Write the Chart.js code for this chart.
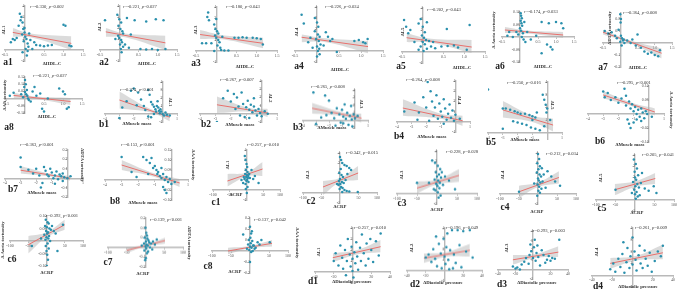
<!DOCTYPE html>
<html><head><meta charset="utf-8">
<script src="https://cdn.jsdelivr.net/npm/chart.js@4"></script>
<style>
html,body{margin:0;padding:0;background:#fff;}
#fig{position:relative;width:685px;height:302px;overflow:hidden;font-family:"Liberation Serif","DejaVu Serif",serif;}
#fig canvas{position:absolute;}
.t{position:absolute;white-space:nowrap;color:#222;line-height:1;}
.lab{font-size:9.5px;font-weight:bold;}
.ann{font-size:4.6px;color:#333;}
.xt{font-size:4.8px;font-weight:bold;color:#333;}
.yt{font-size:4.8px;font-weight:bold;color:#333;}
</style></head><body><div id="fig"></div>
<script>
/* tick labels */
const hdlTicks = ['-0.5','0.5','1.0','1.5'];
const muscleTicks = ['-4','-3','-2','-1','1'];
const crpTicks = ['-100','-50','50','100'];
const dbpTicks = ['-40','-20','20','40'];
const lTicks = ['-1','1','2','3','4'];
const aortaTicks = ['-0.10','-0.05','0.05','0.10'];
const tort1Ticks = ['-0.2','-0.1','0.1','0.2','0.3'];
const tort2Ticks = ['-0.10','-0.05','0.05','0.10','0.15'];

/* annotations */
const rText = ['-0.330','-0.221','-0.180','-0.226','-0.202','-0.174','-0.364','-0.221',
  '-0.374','-0.267','-0.265','-0.264','-0.250','-0.295','-0.363','-0.153',
  '0.257','0.342','0.228','0.212','0.205','0.392','0.139','0.137',
  '0.257','0.196','0.293','0.261'];
const pText = ['=0.002','=0.027','=0.043','=0.024','=0.043','=0.033','=0.008','=0.027',
  '<0.001','=0.007','=0.008','=0.008','=0.016','<0.001','<0.001','<0.001',
  '=0.010','=0.015','=0.028','=0.034','=0.041','<0.001','<0.001','=0.042',
  '=0.010','=0.049','=0.003','=0.009'];

/* HDL-C panels */
const a1Pts = [[-0.12,3.3],[-0.08,3.0],[-0.1,2.7],[-0.05,2.5],[-0.15,2.2],[-0.03,1.9],[0.0,1.6],[-0.06,1.4],[0.02,1.2],[0.05,1.0],[-0.02,0.8],[0.08,0.6],[0.1,0.3],[0.03,0.1],[-0.05,-0.2],[0.06,-0.5],[0.12,1.5],[0.15,0.9],[-0.25,0.9],[-0.3,1.0],[-0.35,0.7],[0.3,0.45],[0.4,0.4],[0.5,0.35],[0.6,0.4],[0.7,0.45],[1.0,2.3],[1.05,2.2],[1.2,0.35],[1.15,0.4],[0.2,0.1],[0.08,-0.1],[0.0,2.0],[-0.2,1.1],[0.25,0.7]];
const a1Fit = [[-0.3,1.6],[1.2,0.6]];
const a1Band = [[-0.3,1.2,2.0],[0.15,1.15,1.5],[1.2,0.0,1.25]];
const a2Pts = [[-0.37,2.7],[-0.05,3.2],[0.0,2.8],[0.05,2.5],[-0.02,2.2],[0.03,1.9],[0.08,1.7],[0.1,1.5],[-0.03,1.3],[0.0,1.1],[0.05,0.9],[0.07,0.7],[0.02,0.5],[0.1,0.3],[0.04,0.1],[0.06,-0.2],[0.4,2.7],[0.7,2.6],[0.95,2.8],[1.15,2.7],[0.2,2.9],[0.55,0.1],[0.7,0.05],[0.85,0.1],[1.0,0.0],[1.2,0.1],[0.3,1.4],[-0.1,1.0],[0.15,0.5],[0.25,0.2]];
const a2Fit = [[-0.35,1.65],[1.2,0.65]];
const a2Band = [[-0.35,1.2,2.0],[0.15,1.15,1.5],[1.2,0.0,1.3]];
const a3Pts = [[-0.2,3.5],[-0.22,3.1],[-0.18,2.8],[-0.05,2.4],[-0.02,2.0],[0.02,1.8],[0.05,1.6],[-0.03,1.4],[0.0,1.2],[0.05,1.0],[0.08,0.8],[0.03,0.5],[0.1,0.3],[0.12,0.1],[-0.05,0.0],[0.2,0.05],[0.3,0.05],[-0.35,0.7],[-0.25,0.7],[-0.12,0.7],[0.55,1.2],[0.65,1.25],[0.75,1.2],[0.9,1.2],[1.0,1.15],[1.1,1.1],[1.15,0.6],[0.45,1.2],[0.15,1.3],[0.0,2.9]];
const a3Fit = [[-0.4,1.5],[1.16,0.7]];
const a3Band = [[-0.4,1.1,1.9],[0.2,1.05,1.4],[1.16,0.25,1.2]];
const a4Pts = [[-0.35,3.3],[-0.3,2.5],[-0.05,3.0],[0.0,2.6],[0.03,2.2],[-0.05,1.8],[0.02,1.5],[0.06,1.3],[-0.02,1.1],[0.04,0.9],[0.08,0.6],[0.0,0.4],[0.05,0.2],[0.02,0.0],[0.06,-0.3],[0.0,-0.5],[-0.15,1.2],[-0.2,0.8],[0.25,1.3],[0.3,0.9],[0.35,1.1],[0.45,-0.1],[0.85,0.9],[0.95,1.0],[1.05,0.8],[1.15,1.1],[1.1,0.7],[0.15,0.5],[0.2,1.7],[-0.1,0.3]];
const a4Fit = [[-0.35,1.25],[1.16,0.4]];
const a4Band = [[-0.35,0.8,1.5],[0.2,0.8,1.15],[1.16,-0.2,0.9]];
const a5Pts = [[-0.45,2.9],[-0.4,2.3],[-0.3,2.0],[-0.35,1.7],[-0.1,2.6],[-0.05,3.0],[0.0,2.3],[0.05,1.8],[-0.02,1.5],[0.03,1.3],[0.08,1.1],[0.0,0.9],[0.05,0.7],[-0.05,0.5],[0.1,0.3],[0.02,0.1],[-0.1,0.2],[0.1,2.7],[0.58,2.1],[1.13,2.45],[0.2,0.5],[0.3,0.35],[0.45,0.5],[0.6,0.55],[0.75,0.6],[0.85,0.4],[1.06,0.2],[0.15,1.0],[-0.2,0.9],[0.25,0.9]];
const a5Fit = [[-0.39,1.3],[1.18,0.45]];
const a5Band = [[-0.39,0.9,1.7],[0.2,0.85,1.2],[1.18,-0.1,1.1]];
const a6Pts = [[0.02,0.095],[0.03,0.085],[0.05,0.075],[0.02,0.065],[0.04,0.055],[0.06,0.045],[0.0,0.035],[0.03,0.025],[0.08,0.015],[0.05,0.0],[-0.05,0.01],[0.1,-0.01],[-0.1,0.02],[-0.3,0.02],[-0.35,0.005],[-0.2,0.0],[0.12,0.06],[0.6,0.06],[0.8,0.055],[1.0,0.06],[1.15,0.055],[1.2,0.035],[0.75,-0.03],[0.85,-0.04],[0.9,-0.05],[0.6,-0.065],[0.3,-0.01],[0.2,0.02],[0.15,-0.02],[0.45,0.005]];
const a6Fit = [[-0.42,0.028],[1.2,0.008]];
const a6Band = [[-0.42,0.016,0.04],[0.2,0.014,0.026],[1.2,-0.004,0.02]];
const a7Pts = [[0.0,0.24],[0.02,0.2],[0.01,0.17],[-0.45,0.1],[-0.35,0.08],[-0.25,0.09],[-0.15,0.06],[-0.1,0.04],[0.02,0.06],[0.05,0.04],[0.08,0.02],[0.0,0.01],[0.1,0.03],[0.12,0.0],[0.04,-0.02],[0.2,0.02],[0.3,0.0],[0.5,0.07],[0.45,-0.02],[0.6,-0.04],[0.7,-0.07],[0.8,-0.09],[0.9,-0.08],[1.0,-0.1],[1.1,-0.11],[1.15,-0.06],[0.35,0.03],[-0.05,0.11]];
const a7Fit = [[-0.5,0.09],[1.2,-0.085]];
const a7Band = [[-0.5,0.07,0.11],[0.3,-0.002,0.02],[1.2,-0.13,-0.045]];
const a8Pts = [[0.0,0.13],[0.02,0.1],[-0.02,0.08],[0.05,0.06],[0.0,0.045],[0.03,0.03],[0.06,0.02],[-0.05,0.01],[0.08,0.0],[0.1,-0.01],[-0.1,0.03],[-0.3,0.04],[-0.4,0.02],[0.2,0.05],[0.3,0.02],[0.45,-0.07],[0.5,-0.09],[0.9,0.07],[1.0,0.05],[1.05,0.03],[1.1,-0.07],[1.15,-0.06],[0.6,0.0],[0.15,-0.02],[0.25,0.08],[0.4,0.035]];
const a8Fit = [[-0.3,0.022],[1.2,-0.02]];
const a8Band = [[-0.3,0.005,0.04],[0.2,0.0,0.017],[1.2,-0.045,0.005]];

/* muscle mass panels */
const b1Pts = [[-3.0,-0.5],[-2.8,0.8],[-2.2,2.9],[-2.0,3.2],[-1.7,2.7],[-1.5,1.8],[-1.3,1.0],[-1.2,0.5],[-1.0,3.0],[-0.9,2.4],[-0.8,1.5],[-0.7,1.2],[-0.6,0.9],[-0.5,0.6],[-0.45,0.3],[-0.4,1.0],[-0.3,0.8],[-0.25,0.4],[-0.2,0.1],[-0.15,0.6],[-0.1,0.3],[0.0,0.0],[0.1,-0.2],[0.2,0.2],[0.3,-0.1],[0.5,-0.2],[-0.6,0.0],[-1.0,-0.3],[-1.8,1.1],[-2.5,1.6],[-0.35,1.6],[-0.8,-0.4]];
const b1Fit = [[-3,1.75],[0.5,-0.4]];
const b1Band = [[-3,0.7,2.8],[-0.8,0.2,0.6],[0.5,-0.9,0.1]];
const b2Pts = [[-2.9,-1.0],[-2.5,1.9],[-2.2,2.8],[-2.0,1.5],[-1.8,2.4],[-1.6,2.0],[-1.5,0.9],[-1.3,2.6],[-1.2,1.2],[-1.0,0.8],[-0.9,1.6],[-0.8,0.5],[-0.7,1.1],[-0.6,0.2],[-0.5,0.9],[-0.4,0.4],[-0.3,-0.2],[-0.2,0.6],[-0.1,0.1],[0.0,-0.3],[0.2,0.3],[0.4,0.0],[-1.1,-0.4],[-1.4,-0.2],[-0.8,-0.5],[-0.5,1.9],[-1.7,0.6]];
const b2Fit = [[-2.9,1.1],[0.4,0.1]];
const b2Band = [[-2.9,0.1,2.1],[-0.8,0.25,0.7],[0.4,-0.4,0.6]];
const b3Pts = [[-3.2,3.7],[-2.3,3.3],[-2.0,2.6],[-3.0,-0.5],[-2.6,0.4],[-1.8,1.0],[-1.6,0.3],[-1.4,1.6],[-1.2,0.8],[-1.1,-0.3],[-1.0,1.4],[-0.9,0.5],[-0.8,2.1],[-0.7,0.2],[-0.6,1.0],[-0.5,-0.6],[-0.4,0.6],[-0.3,1.9],[-0.25,0.1],[-0.2,-0.8],[-0.1,0.8],[0.0,0.3],[0.2,0.6],[-1.5,-0.7],[-0.9,-0.4],[-2.2,0.7]];
const b3Fit = [[-3.3,1.6],[0.5,0.3]];
const b3Band = [[-3.3,0.9,2.3],[-0.8,0.5,1.0],[0.5,-0.3,0.9]];
const b4Pts = [[-3.5,1.0],[-2.8,1.9],[-2.5,0.9],[-2.2,2.4],[-2.0,1.4],[-1.9,3.9],[-1.7,3.0],[-1.6,2.0],[-1.5,0.6],[-1.4,1.4],[-1.3,2.6],[-1.2,0.3],[-1.1,1.8],[-1.0,1.0],[-0.9,0.5],[-0.8,2.2],[-0.7,1.3],[-0.6,0.2],[-0.5,0.8],[-0.4,1.7],[-0.3,0.4],[-0.2,1.1],[-0.1,0.1],[0.0,0.7],[0.3,0.3],[-2.6,0.2],[-1.8,0.1],[-0.8,-0.2]];
const b4Fit = [[-3.6,1.35],[0.5,0.1]];
const b4Band = [[-3.6,0.6,2.2],[-1,0.3,0.8],[0.5,-0.4,0.6]];
const b5Pts = [[-4.0,3.4],[-3.0,1.9],[-2.8,1.9],[-2.5,1.8],[-2.2,1.7],[-2.0,1.6],[-1.8,1.5],[-1.5,1.5],[-1.2,1.4],[-1.0,1.3],[-0.8,1.2],[-0.7,1.6],[-2.3,0.9],[-2.0,0.8],[-1.7,0.7],[-1.4,0.6],[-1.1,0.4],[-0.8,0.3],[-0.5,0.2],[-0.3,3.0],[-0.2,2.6],[-0.1,2.2],[0.0,1.9],[-0.05,1.6],[-0.2,0.5],[0.2,1.0],[-3.0,0.3],[-1.0,1.0]];
const b5Fit = [[-3,1.8],[0.4,0.6]];
const b5Band = [[-3,1.2,2.5],[-1,0.85,1.35],[0.4,0.1,1.1]];
const b6Pts = [[-3.0,0.08],[-2.9,0.06],[-2.7,0.075],[-2.5,0.05],[-2.2,0.06],[-2.0,0.04],[-1.8,0.055],[-1.6,0.09],[-1.5,0.03],[-1.3,0.045],[-1.2,0.02],[-1.1,0.035],[-1.0,0.01],[-0.9,0.025],[-0.8,0.0],[-0.7,0.015],[-0.6,-0.01],[-0.5,0.02],[-0.4,0.005],[-0.3,-0.015],[-0.2,0.01],[-0.1,0.0],[0.2,-0.01],[-1.4,-0.02],[-1.3,-0.035],[-1.2,-0.05],[-1.0,-0.03],[-0.8,-0.02],[-0.5,-0.025],[-1.5,0.065]];
const b6Fit = [[-3,0.068],[0.4,0.007]];
const b6Band = [[-3,0.055,0.082],[-1,0.026,0.038],[0.4,-0.005,0.02]];
const b7Pts = [[-3.0,0.22],[-3.0,0.12],[-2.5,0.09],[-2.2,0.05],[-2.0,0.1],[-1.8,0.03],[-1.6,-0.05],[-1.5,0.12],[-1.4,0.08],[-1.3,0.04],[-1.2,0.02],[-1.1,0.1],[-1.0,0.06],[-0.9,0.0],[-0.8,0.03],[-0.7,0.07],[-0.6,-0.01],[-0.5,0.04],[-0.4,0.02],[-0.3,-0.03],[-0.2,0.01],[0.0,0.0],[0.2,0.02],[-1.7,-0.1],[-0.8,-0.06],[-0.3,0.05]];
const b7Fit = [[-3,0.085],[0.17,0.0]];
const b7Band = [[-3,0.05,0.13],[-1,0.015,0.045],[0.17,-0.025,0.025]];
const b8Pts = [[-3.0,0.115],[-1.7,0.115],[-1.5,0.1],[-1.3,0.085],[-1.2,0.11],[-1.0,0.07],[-0.9,0.05],[-0.85,0.03],[-0.8,0.04],[-0.7,0.02],[-0.6,0.01],[-0.5,0.03],[-0.4,0.0],[-0.3,0.015],[-0.2,-0.01],[-0.1,0.005],[0.0,-0.02],[0.2,-0.01],[-2.1,0.015],[-2.4,0.04],[-1.1,0.06],[-0.5,-0.035],[-0.4,-0.05],[-0.3,-0.065],[-1.4,0.03],[-0.6,0.06]];
const b8Fit = [[-3,0.075],[0.5,-0.015]];
const b8Band = [[-3,0.05,0.1],[-1,0.015,0.032],[0.5,-0.035,0.005]];

/* CRP panels */
const c1Pts = [[-5,3.4],[-3,3.0],[0,2.6],[2,2.3],[-2,2.0],[3,1.8],[-4,1.6],[1,1.5],[5,1.4],[-1,1.3],[4,1.2],[-6,1.1],[2,1.0],[0,0.9],[6,0.8],[-3,0.6],[8,1.6],[10,1.2],[-8,1.3],[-10,0.7],[15,2.0],[20,1.1],[36,0.7],[3,0.3],[-2,0.1],[1,-0.3],[-15,1.0],[25,1.4]];
const c1Fit = [[-57,0.9],[48,2.1]];
const c1Band = [[-57,0.35,1.6],[0,1.35,1.75],[48,1.4,2.8]];
const c2Pts = [[0,3.6],[3,3.3],[6,3.0],[12,2.8],[18,2.7],[25,2.5],[30,2.3],[2,2.4],[-2,2.0],[4,1.8],[8,1.6],[0,1.4],[-3,1.2],[5,1.1],[10,1.0],[1,0.9],[-4,0.8],[3,0.6],[7,0.5],[-1,0.4],[12,0.3],[18,0.2],[25,0.15],[48,0.1],[6,0.1],[-8,0.9],[15,1.3],[20,1.9]];
const c2Fit = [[-46,0.6],[49,2.0]];
const c2Band = [[-46,-0.2,1.2],[0,1.05,1.5],[49,1.3,2.7]];
const c3Pts = [[-12,3.1],[-5,2.9],[2,2.6],[8,2.3],[-3,2.0],[5,1.8],[0,1.6],[10,1.5],[-6,1.3],[3,1.2],[7,1.0],[-2,0.9],[1,0.7],[6,0.5],[-4,0.3],[2,0.1],[9,-0.2],[4,-0.4],[-50,1.0],[-20,1.0],[15,0.8],[20,1.6],[30,1.2],[45,0.4],[-8,0.4],[12,2.0]];
const c3Fit = [[-50,0.5],[55,1.7]];
const c3Band = [[-50,0.0,1.1],[0,0.85,1.3],[55,1.1,2.3]];
const c4Pts = [[0,3.9],[3,3.4],[-2,3.0],[5,2.7],[1,2.4],[-3,2.1],[4,1.9],[8,1.7],[0,1.5],[2,1.3],[6,1.1],[-1,0.9],[3,0.7],[9,0.5],[1,0.3],[5,0.1],[-2,-0.2],[12,1.2],[15,1.9],[20,0.6],[35,1.7],[45,1.2],[58,0.8],[-50,0.2],[-10,1.0],[25,2.2],[10,2.5]];
const c4Fit = [[-50,0.2],[55,1.6]];
const c4Band = [[-50,-0.4,0.8],[0,0.65,1.1],[55,1.0,2.2]];
const c5Pts = [[-3,3.6],[2,3.2],[5,2.8],[-1,2.5],[8,2.2],[0,2.0],[3,1.8],[-5,1.6],[6,1.4],[1,1.2],[10,1.1],[-2,0.9],[4,0.7],[0,0.5],[7,0.3],[2,0.1],[15,1.5],[18,2.4],[25,1.0],[35,0.8],[48,1.2],[55,0.6],[-8,0.6],[12,0.4],[-50,0.9]];
const c5Fit = [[-52,0.9],[52,1.9]];
const c5Band = [[-52,0.4,1.4],[0,1.15,1.65],[52,1.4,2.4]];
const c6Pts = [[-2,0.085],[3,0.075],[6,0.07],[-4,0.06],[1,0.055],[8,0.05],[12,0.045],[-1,0.04],[4,0.035],[2,0.03],[-6,0.025],[7,0.02],[0,0.015],[5,0.01],[-3,0.005],[10,0.0],[3,-0.01],[-2,-0.02],[6,-0.03],[0,-0.04],[2,-0.055],[4,-0.075],[1,-0.1],[15,0.06],[20,0.04],[25,0.03],[30,-0.04],[-40,-0.02],[-15,0.01],[45,0.065]];
const c6Fit = [[-50,-0.015],[50,0.065]];
const c6Band = [[-50,-0.05,0.02],[0,0.015,0.035],[50,0.045,0.085]];
const c7Pts = [[2,0.15],[4,0.12],[-2,0.1],[5,0.09],[8,0.07],[1,0.06],[10,0.05],[-4,0.04],[3,0.03],[6,0.02],[0,0.01],[12,0.0],[2,-0.01],[-3,-0.03],[7,-0.04],[15,0.04],[20,0.06],[25,0.03],[4,-0.06],[1,-0.11],[-1,-0.13],[30,0.08],[-10,0.02],[18,-0.02],[0,0.2]];
const c7Fit = [[-50,-0.03],[52,0.07]];
const c7Band = [[-50,-0.06,0.0],[0,0.01,0.03],[52,0.04,0.1]];
const c8Pts = [[0,0.22],[5,0.18],[-18,0.15],[3,0.16],[1,0.12],[-3,0.1],[6,0.09],[20,0.08],[52,0.08],[2,0.07],[-5,0.06],[8,0.05],[0,0.04],[4,0.03],[12,0.02],[-2,0.01],[7,0.0],[3,-0.01],[10,0.05],[15,0.03],[25,0.06],[0,-0.1],[-8,0.02],[30,0.1]];
const c8Fit = [[-58,0.0],[58,0.07]];
const c8Band = [[-58,-0.03,0.03],[0,0.025,0.045],[58,0.04,0.1]];

/* diastolic pressure panels */
const d1Pts = [[-20,1.0],[-18,1.7],[-15,0.6],[-13,2.4],[-11,1.3],[-10,0.3],[-8,2.0],[-6,1.0],[-5,3.0],[-3,1.6],[-2,0.5],[-1,2.3],[0,1.2],[0,0.1],[2,1.8],[3,0.8],[4,2.7],[5,1.4],[6,0.2],[8,2.2],[9,1.0],[10,3.4],[12,1.7],[14,0.6],[15,2.6],[17,1.2],[19,3.0],[20,2.0],[22,0.9],[25,2.8],[28,1.5],[30,3.5],[-7,-0.3],[1,-0.5]];
const d1Fit = [[-21,1.3],[30,2.3]];
const d1Band = [[-21,0.9,1.7],[5,1.6,2.0],[30,1.8,2.9]];
const d2Pts = [[-20,1.2],[-17,1.5],[-14,0.8],[-12,2.0],[-10,1.1],[-8,0.4],[-6,2.5],[-4,1.6],[-3,0.2],[-1,3.0],[0,1.3],[1,0.6],[2,2.2],[3,3.5],[4,1.0],[5,0.1],[6,1.9],[8,3.8],[10,1.5],[12,0.7],[14,3.8],[16,2.4],[18,0.3],[20,3.7],[23,1.8],[27,3.8],[30,1.2],[-9,3.2],[9,0.2]];
const d2Fit = [[-22,1.15],[27,1.9]];
const d2Band = [[-22,0.7,1.6],[3,1.3,1.75],[27,1.3,2.5]];
const d3Pts = [[-23,0.3],[-20,0.1],[-18,0.2],[-15,0.0],[-13,0.5],[-10,0.8],[-8,1.2],[-5,0.6],[-4,1.5],[-2,1.9],[0,1.2],[1,2.3],[2,3.1],[3,0.9],[4,1.7],[5,2.5],[6,1.3],[8,0.4],[10,2.0],[12,1.5],[14,0.7],[16,1.0],[18,1.4],[20,0.9],[22,1.2],[25,1.1],[30,3.1],[-3,2.6]];
const d3Fit = [[-23,1.0],[29,1.8]];
const d3Band = [[-23,0.5,1.5],[3,1.2,1.6],[29,1.3,2.4]];
const d4Pts = [[-22,0.5],[-19,1.0],[-17,0.3],[-14,1.4],[-12,0.7],[-10,1.8],[-8,0.2],[-6,1.1],[-5,2.3],[-3,0.6],[-2,1.6],[0,3.2],[0,0.9],[2,2.0],[3,1.3],[4,0.4],[6,1.7],[7,2.5],[8,1.0],[10,0.6],[12,2.1],[13,1.4],[15,0.8],[17,1.9],[19,0.3],[22,1.2],[25,2.0],[28,1.6],[30,2.5],[-9,2.8]];
const d4Fit = [[-22,1.0],[30,1.9]];
const d4Band = [[-22,0.55,1.45],[4,1.25,1.65],[30,1.35,2.6]];

const TEAL = '#2a90ad', RED = '#e8706c', BAND = 'rgba(175,175,175,0.45)', AXIS = '#b9b9b9';
const SERIF = '"Liberation Serif", serif';
const fig = document.getElementById('fig');

const HDL = [-0.5, 1.5], MUS = [-4, 1], CRP = [-100, 100], DBP = [-40, 40];
const XT = {HDL: ['ΔHDL-C', hdlTicks], MUS: ['ΔMuscle mass', muscleTicks], CRP: ['ΔCRP', crpTicks], DBP: ['ΔDiastolic pressure', dbpTicks]};

// id, pts, fit, band, xkind, xrange, yrange, yticks, ytitle, box[X0,X1,Ytop,Ybot], label, ann, xtitle, ytitle(x,y,rot)
const panels = [
  ['a1',a1Pts,a1Fit,a1Band,'HDL',HDL,[-1,4],lTicks,'ΔL1',[5,83,6,61],[8,63],[47,7],[52,64],[4,30,-90]],
  ['a2',a2Pts,a2Fit,a2Band,'HDL',HDL,[-1,4],lTicks,'ΔL2',[100,177,6,61],[104,63],[140,7],[147,64],[100,27,-90]],
  ['a3',a3Pts,a3Fit,a3Band,'HDL',HDL,[-1,4],lTicks,'ΔL3',[196,277,7,62],[196,64],[243,7],[245,67],[196,30,-90]],
  ['a4',a4Pts,a4Fit,a4Band,'HDL',HDL,[-1,4],lTicks,'ΔL4',[295,383,7,62],[299,67],[342,7],[340,70],[297,32,-90]],
  ['a5',a5Pts,a5Fit,a5Band,'HDL',HDL,[-1,4],lTicks,'ΔL5',[402,485,8,63],[401,67],[444,10],[462,68],[403,32,-90]],
  ['a6',a6Pts,a6Fit,a6Band,'HDL',HDL,[-0.1,0.1],aortaTicks,'Δ Aorta tortuosity',[502,574,12,62],[500,67],[541,12],[543,67],[494,30,-90]],
  ['a7',a7Pts,a7Fit,a7Band,'HDL',HDL,[-0.2,0.25],tort1Ticks,'ΔDTA tortuosity',[603,672,13,67],[603,68],[640,13],[638,68],[610,28,-90]],
  ['a8',a8Pts,a8Fit,a8Band,'HDL',HDL,[-0.1,0.15],tort2Ticks,'ΔAA tortuosity',[6,82,77,113],[9,128],[50,76],[47,117],[5,95,-90]],
  ['b1',b1Pts,b1Fit,b1Band,'MUS',MUS,[-1,4],lTicks,'ΔL1',[105,177,82,122],[104,125],[137,90],[137,124],[170,102,90]],
  ['b2',b2Pts,b2Fit,b2Band,'MUS',MUS,[-1,4],lTicks,'ΔL2',[200,277,81,122],[206,125],[237,80],[240,125],[270,98,90]],
  ['b3',b3Pts,b3Fit,b3Band,'MUS',MUS,[-1,4],lTicks,'ΔL3',[303,368,90,127.5],[298,128],[328,87],[332,128],[361,104,90]],
  ['b4',b4Pts,b4Fit,b4Band,'MUS',MUS,[-1,4],lTicks,'ΔL4',[397,470,81,132],[399,137],[423,80],[432,137],[459,100,90]],
  ['b5',b5Pts,b5Fit,b5Band,'MUS',MUS,[-0.5,4],lTicks,'ΔL5',[488,562,82,139],[491,143],[524,83],[525,140],[552,105,90]],
  ['b6',b6Pts,b6Fit,b6Band,'MUS',MUS,[-0.1,0.1],aortaTicks,'Δ Aorta tortuosity',[588,664,86,142],[600,142],[634,83],[630,145],[671,110,90]],
  ['b7',b7Pts,b7Fit,b7Band,'MUS',MUS,[-0.2,0.3],tort1Ticks,'ΔDTA tortuosity',[5,83,150,197],[13,190],[37,145],[42,193],[82,165,90]],
  ['b8',b8Pts,b8Fit,b8Band,'MUS',MUS,[-0.1,0.15],tort2Ticks,'ΔAA tortuosity',[105,188,150,200],[115,202],[138,145],[143,203],[193,165,90]],
  ['c1',c1Pts,c1Fit,c1Band,'CRP',CRP,[-1,4],lTicks,'ΔL1',[213,280,150,200],[216,203],[263,145],[236,195],[228,165,-90]],
  ['c2',c2Pts,c2Fit,c2Band,'CRP',CRP,[-1,4],lTicks,'ΔL2',[303,377,153,203],[311,202],[362,153],[340,207],[308,175,-90]],
  ['c3',c3Pts,c3Fit,c3Band,'CRP',CRP,[-1,4],lTicks,'ΔL3',[397,477,151,203.5],[402,204],[462,152],[437,210],[402,175,-90]],
  ['c4',c4Pts,c4Fit,c4Band,'CRP',CRP,[-1,4],lTicks,'ΔL4',[500,576,153,204],[505,208],[562,154],[537,212],[503,175,-90]],
  ['c5',c5Pts,c5Fit,c5Band,'CRP',CRP,[-1,4],lTicks,'ΔL5',[596,674,155,211],[602,209],[658,155],[637,213],[601,178,-90]],
  ['c6',c6Pts,c6Fit,c6Band,'CRP',CRP,[-0.1,0.1],aortaTicks,'Δ Aorta tortuosity',[10,83,216,266],[12,260],[62,216],[47,273],[3,240,-90]],
  ['c7',c7Pts,c7Fit,c7Band,'CRP',CRP,[-0.2,0.3],tort1Ticks,'ΔDTA tortuosity',[108,183,218,266.5],[108,263],[166,220],[143,274],[189,243,90]],
  ['c8',c8Pts,c8Fit,c8Band,'CRP',CRP,[-0.2,0.3],tort1Ticks,'ΔAA tortuosity',[212,288,218,273],[208,267],[270,220],[235,272],[297,243,90]],
  ['d1',d1Pts,d1Fit,d1Band,'DBP',DBP,[-1,4],lTicks,'ΔL1',[315,390,228,283],[313,282],[370,228],[352,282],[319,252,-90]],
  ['d2',d2Pts,d2Fit,d2Band,'DBP',DBP,[-1,4],lTicks,'ΔL2',[407,482,228,280.5],[415,285],[462,228],[443,283],[412,248,-90]],
  ['d3',d3Pts,d3Fit,d3Band,'DBP',DBP,[-1,4],lTicks,'ΔL3',[498,568,231,279],[502,285],[549,231],[537,283],[507,248,-90]],
  ['d4',d4Pts,d4Fit,d4Band,'DBP',DBP,[-1,4],lTicks,'ΔL4',[592,673,228,287],[598,287],[651,228],[638,287],[597,252,-90]]
];

function text(cls, html, x, y, rot) {
  const el = document.createElement('div');
  el.className = 't ' + cls;
  el.innerHTML = html;
  el.style.left = x + 'px';
  el.style.top = y + 'px';
  el.style.transform = 'translate(-50%,-50%)' + (rot ? ' rotate(' + rot + 'deg)' : '');
  fig.appendChild(el);
}

const xy = a => a.map(q => ({x: q[0], y: q[1]}));

function tickAxis(list, range, pos) {
  const vals = list.filter(s => +s >= range[0] - 1e-9 && +s <= range[1] + 1e-9);
  return {
    type: 'linear', min: range[0], max: range[1], position: pos,
    grid: {drawOnChartArea: false, color: AXIS, tickLength: 1.5, lineWidth: 1},
    border: {color: AXIS, width: 1.4},
    afterBuildTicks: s => { s.ticks = vals.map(v => ({value: +v})); },
    ticks: {autoSkip: false, maxRotation: 0, padding: 1, color: '#555',
      font: {size: 4, family: SERIF}, callback: (v, i) => vals[i]}
  };
}

panels.forEach((p, k) => {
  const [id, pts, fit, band, xk, xr, yr, yt, ytitle, box, lab, ann, xtl, ytl] = p;
  const [X0, X1, Yt, Yb] = box, pad = 8;
  const w = X1 - X0 + 2 * pad, h = Yb - Yt + 2 * pad;
  const cv = document.createElement('canvas');
  cv.width = w; cv.height = h;
  cv.style.left = (X0 - pad) + 'px'; cv.style.top = (Yt - pad) + 'px';
  cv.style.width = w + 'px'; cv.style.height = h + 'px';
  fig.appendChild(cv);
  new Chart(cv, {
    type: 'scatter',
    data: {datasets: [
      {data: xy(pts), pointRadius: 1.25, pointBackgroundColor: TEAL, pointBorderWidth: 0},
      {data: xy(fit), showLine: true, pointRadius: 0, borderColor: RED, borderWidth: 1},
      {data: band.map(r => ({x: r[0], y: r[1]})), showLine: true, pointRadius: 0, borderWidth: 0, tension: 0.4},
      {data: band.map(r => ({x: r[0], y: r[2]})), showLine: true, pointRadius: 0, borderWidth: 0, tension: 0.4,
        fill: '-1', backgroundColor: BAND}
    ]},
    options: {
      responsive: false, animation: false, devicePixelRatio: 1,
      layout: {padding: pad},
      plugins: {legend: {display: false}, tooltip: {enabled: false}},
      scales: {
        x: tickAxis(XT[xk][1], xr, {y: 0}),
        y: tickAxis(yt, yr, {x: 0})
      }
    }
  });
  text('lab', id, lab[0], lab[1]);
  text('ann', '<i>r</i>=' + rText[k] + ', <i>p</i>' + pText[k], ann[0], ann[1]);
  text('xt', XT[xk][0], xtl[0], xtl[1]);
  text('yt', ytitle, ytl[0], ytl[1], ytl[2]);
});
</script></body></html>
